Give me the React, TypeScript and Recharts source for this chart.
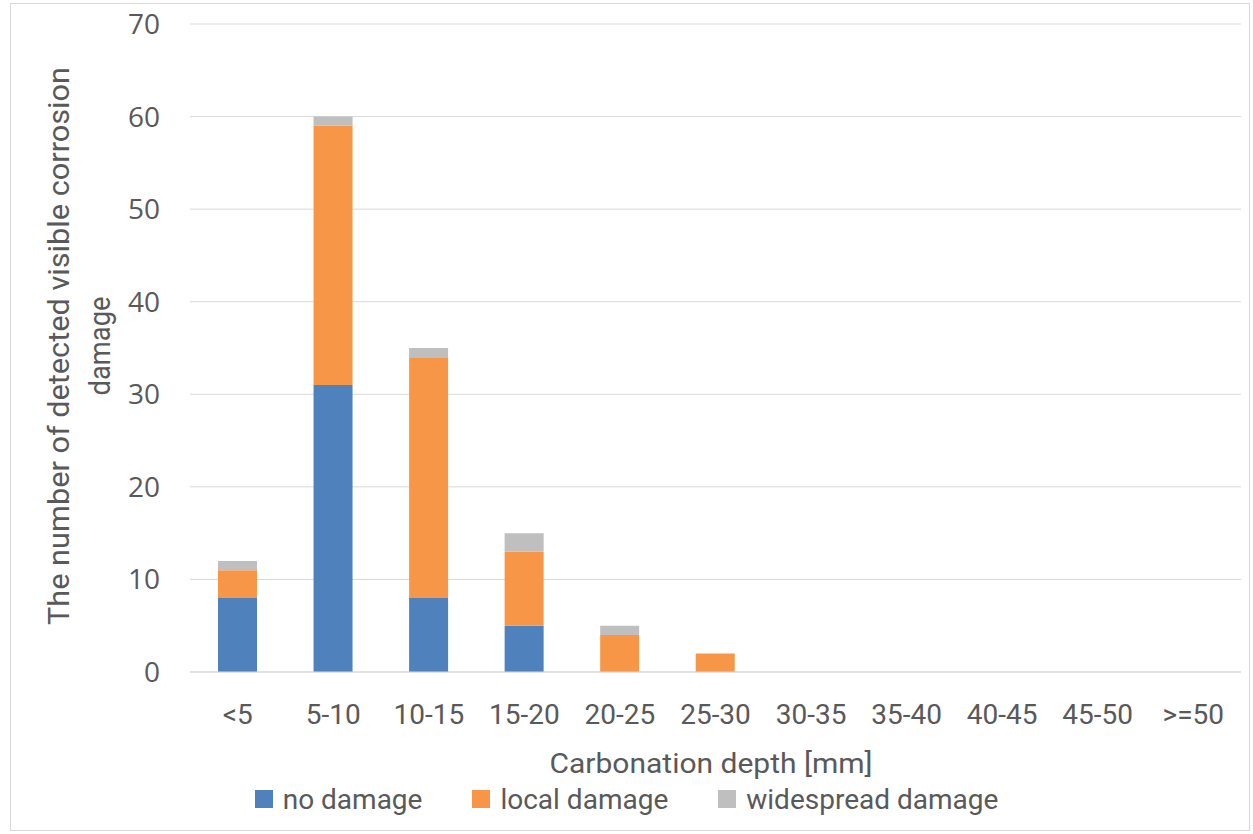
import React from "react";
import { BarChart, Bar, XAxis, YAxis, CartesianGrid, Legend, Label } from "recharts";

const categories = ["<5", "5-10", "10-15", "15-20", "20-25", "25-30", "30-35", "35-40", "40-45", "45-50", ">=50"];
const noDamage = [8, 31, 8, 5, 0, 0, 0, 0, 0, 0, 0];
const localDamage = [3, 28, 26, 8, 4, 2, 0, 0, 0, 0, 0];
const widespreadDamage = [1, 1, 1, 2, 1, 0, 0, 0, 0, 0, 0];
const yTicks = [0, 10, 20, 30, 40, 50, 60, 70];

const SERIES = [
  { key: "no", name: "no damage", color: "#4f81bd" },
  { key: "local", name: "local damage", color: "#f79646" },
  { key: "wide", name: "widespread damage", color: "#bfbfbf" }
];

const TEXT = "#595959";
const FONT = "'Open Sans', sans-serif";
const BODY = "Roboto, sans-serif";

const data = categories.map((name, i) => ({
  name,
  no: noDamage[i],
  local: localDamage[i],
  wide: widespreadDamage[i]
}));

// y axis title: two centred lines, rotated
const YTitle = () => {
  const cy = 346;
  return (
    <g>
      <g transform={`translate(69 ${cy}) rotate(-90)`}>
        <text x={0} y={0} textAnchor="middle" fill={TEXT} fontSize={29} fontFamily={BODY}
          textLength={558} lengthAdjust="spacingAndGlyphs">
          The number of detected visible corrosion
        </text>
      </g>
      <g transform={`translate(110 ${cy}) rotate(-90)`}>
        <text x={0} y={0} textAnchor="middle" fill={TEXT} fontSize={29} fontFamily={BODY}
          textLength={99} lengthAdjust="spacingAndGlyphs">
          damage
        </text>
      </g>
    </g>
  );
};

const XTitle = () => (
  <text x={711} y={773} textAnchor="middle" fill={TEXT} fontSize={28}
    fontFamily={BODY} textLength={323} lengthAdjust="spacingAndGlyphs">
    Carbonation depth [mm]
  </text>
);

const LegendRow = () => (
  <div style={{ height: 40, display: "flex", justifyContent: "center", alignItems: "center", gap: 50,
    fontFamily: BODY, fontSize: 28, color: TEXT, paddingLeft: 12 }}>
    {SERIES.map(s => (
      <span key={s.key} style={{ display: "flex", alignItems: "center" }}>
        <span style={{ width: 18, height: 18, background: s.color, display: "inline-block", marginRight: 10 }}></span>
        {s.name}
      </span>
    ))}
  </div>
);

export default function App() {
  return (
    <div style={{ position: "absolute", left: 0, top: 0, width: 1253, height: 834, background: "#fff" }}>
      <div style={{ position: "absolute", left: 10, top: 3, width: 1238, height: 826, border: "1px solid #d9d9d9" }}></div>
      <BarChart width={1253} height={834} data={data} margin={{ top: 24, right: 12, left: 0, bottom: 0 }}
        barSize={39}>
        <CartesianGrid vertical={false} stroke="#d9d9d9" />
        <XAxis dataKey="name" height={122} tickLine={false} axisLine={{ stroke: "#d9d9d9" }} tickMargin={26}
          tick={{ fill: TEXT, fontSize: 28, fontFamily: BODY }} interval={0}>
          <Label content={<XTitle />} />
        </XAxis>
        <YAxis width={190} domain={[0, 70]} ticks={yTicks} tickLine={false} axisLine={false} tickMargin={24}
          tick={{ fill: TEXT, fontSize: 28, fontFamily: FONT }}>
          <Label content={<YTitle />} />
        </YAxis>
        <Legend verticalAlign="bottom" height={40} content={<LegendRow />} wrapperStyle={{ bottom: 15 }} />
        {SERIES.map(s => (
          <Bar key={s.key} dataKey={s.key} name={s.name} stackId="a" fill={s.color} isAnimationActive={false} />
        ))}
      </BarChart>
    </div>
  );
}
